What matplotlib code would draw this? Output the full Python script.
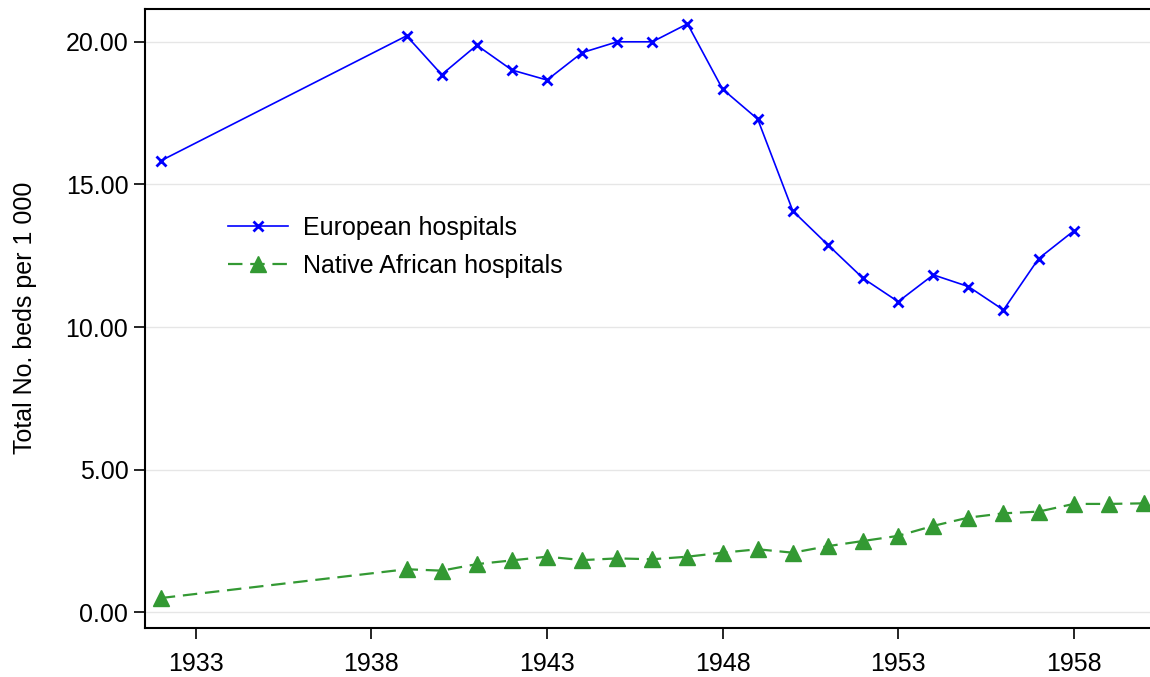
import matplotlib
matplotlib.use("Agg")
import matplotlib.pyplot as plt

plt.rcParams['font.family'] = ['Liberation Sans', 'DejaVu Sans']

years_eu = [1932, 1939, 1940, 1941, 1942, 1943, 1944, 1945, 1946, 1947, 1948,
            1949, 1950, 1951, 1952, 1953, 1954, 1955, 1956, 1957, 1958]
european = [15.83, 20.21, 18.85, 19.88, 19.01, 18.66, 19.62, 20.00, 20.00, 20.63, 18.34,
            17.29, 14.07, 12.88, 11.71, 10.89, 11.83, 11.42, 10.60, 12.40, 13.37]

years_af = [1932, 1939, 1940, 1941, 1942, 1943, 1944, 1945, 1946, 1947, 1948,
            1949, 1950, 1951, 1952, 1953, 1954, 1955, 1956, 1957, 1958, 1959, 1960]
african = [0.50, 1.51, 1.46, 1.69, 1.82, 1.95, 1.83, 1.89, 1.86, 1.95, 2.09,
           2.21, 2.09, 2.32, 2.50, 2.68, 3.03, 3.32, 3.47, 3.53, 3.80, 3.80, 3.82]

x_ticks = [1933, 1938, 1943, 1948, 1953, 1958]
y_ticks = [0, 5, 10, 15, 20]

W, H = 1150, 677
fig = plt.figure(figsize=(W / 100, H / 100), dpi=100)
ax = fig.add_axes([145 / W, 1 - 628 / H, (W - 145) / W + 0.01, (628 - 9) / H])

ax.plot(years_eu, european, color='#0000ff', lw=1.2, marker='x', ms=7.5, mew=2,
        label='European hospitals')
ax.plot(years_af, african, color='#339933', lw=1.6, ls=(0, (6.5, 3.5)), marker='^', ms=11,
        label='Native African hospitals')

ax.set_xlim(1931.55, 1960.5)
ax.set_ylim(-0.55, 21.15)
ax.set_xticks(x_ticks)
ax.set_xticklabels([str(v) for v in x_ticks])
ax.set_yticks(y_ticks)
ax.set_yticklabels([f"{v:.2f}" for v in y_ticks])
ax.tick_params(axis='both', direction='out', length=8, width=1.2, labelsize=18, colors='black')
ax.tick_params(axis='x', pad=9)
ax.tick_params(axis='y', pad=4)
ax.yaxis.grid(True, color='#e6e6e6', lw=1)
ax.set_axisbelow(True)
for s in ['left', 'bottom', 'top']:
    ax.spines[s].set_linewidth(1.5)
    ax.spines[s].set_color('black')
ax.spines['right'].set_visible(False)

fig.text(25 / W, 1 - 318 / H, 'Total No. beds per 1 000', rotation=90, fontsize=18,
         ha='center', va='center')

ax.legend(loc='center left', bbox_to_anchor=(228 / W, 1 - 247 / H),
          bbox_transform=fig.transFigure, frameon=False, fontsize=18,
          borderpad=0, borderaxespad=0, handlelength=2.4, handletextpad=0.6,
          labelspacing=0.55)

fig.savefig('out.png', dpi=100)
